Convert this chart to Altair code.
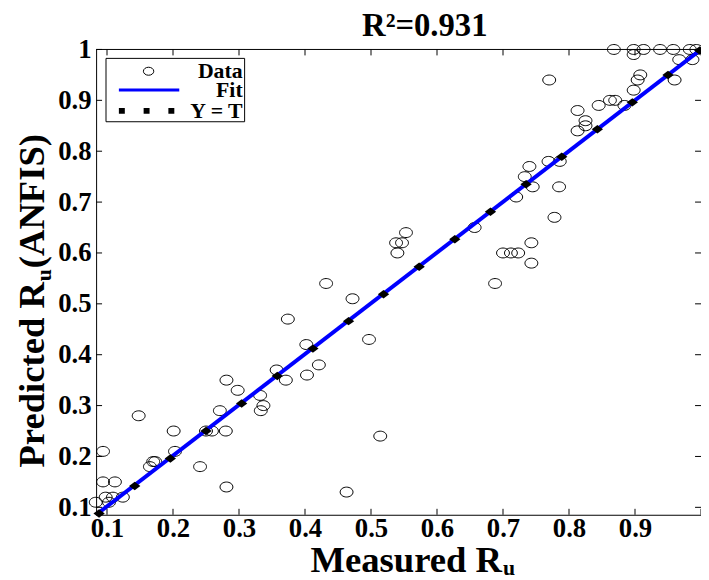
import altair as alt
import pandas as pd

# ---------------- data ----------------
measured = [0.083, 0.098, 0.109, 0.124, 0.103, 0.094, 0.112, 0.094, 0.148, 0.165,
            0.170, 0.173, 0.201, 0.203, 0.241, 0.250, 0.259, 0.280, 0.281, 0.271,
            0.281, 0.298, 0.332, 0.337, 0.333, 0.357, 0.371, 0.374, 0.402, 0.403,
            0.421, 0.432, 0.472, 0.497, 0.514, 0.463, 0.538, 0.547, 0.553, 0.540,
            0.657, 0.688, 0.700, 0.712, 0.723, 0.720, 0.733, 0.740, 0.743, 0.743,
            0.745, 0.769, 0.786, 0.785, 0.778, 0.770, 0.813, 0.825, 0.825, 0.813,
            0.845, 0.862, 0.870, 0.884, 0.868, 0.898, 0.898, 0.913, 0.938, 0.958,
            0.983, 0.993, 0.967, 0.987, 0.908, 0.904, 0.960, 0.898]
predicted = [0.11, 0.12, 0.12, 0.12, 0.11, 0.15, 0.15, 0.21, 0.28, 0.18,
             0.19, 0.19, 0.25, 0.21, 0.18, 0.25, 0.25, 0.25, 0.14, 0.29,
             0.35, 0.33, 0.32, 0.30, 0.29, 0.37, 0.35, 0.47, 0.42, 0.36,
             0.38, 0.54, 0.51, 0.43, 0.24, 0.13, 0.62, 0.62, 0.64, 0.60,
             0.65, 0.54, 0.60, 0.60, 0.60, 0.71, 0.75, 0.77, 0.62, 0.58,
             0.73, 0.78, 0.78, 0.73, 0.67, 0.94, 0.88, 0.86, 0.85, 0.84,
             0.89, 0.90, 0.90, 0.89, 1.00, 1.00, 0.99, 1.00, 1.00, 1.00,
             1.00, 1.00, 0.98, 0.98, 0.95, 0.94, 0.94, 0.92]

fit_x = [0.0835, 1.0]
fit_y = [0.0854, 1.0]

yt_x = [0.088, 0.142, 0.196, 0.250, 0.304, 0.358, 0.412, 0.466, 0.519,
        0.573, 0.627, 0.681, 0.735, 0.789, 0.843, 0.896, 0.950, 0.998]
yt_y = [0.088, 0.142, 0.196, 0.250, 0.304, 0.358, 0.412, 0.466, 0.519,
        0.573, 0.627, 0.681, 0.735, 0.789, 0.843, 0.896, 0.950, 0.998]

x_tick_values = [0.1, 0.2, 0.3, 0.4, 0.5, 0.6, 0.7, 0.8, 0.9, 1.0]
y_tick_values = [0.1, 0.2, 0.3, 0.4, 0.5, 0.6, 0.7, 0.8, 0.9, 1.0]
x_label_values = [0.1, 0.2, 0.3, 0.4, 0.5, 0.6, 0.7, 0.8, 0.9]

title_text = "R²=0.931"
x_title_main, x_title_sub = "Measured R", "u"
y_title_main, y_title_sub, y_title_tail = "Predicted R", "u", "(ANFIS)"
legend_labels = ["Data", "Fit", "Y = T"]

# ---------------- styling ----------------
W, H = 611, 470
FONT = "Liberation Serif"
ELLIPSE = "M -1 0 A 1 0.77 0 1 0 1 0 A 1 0.77 0 1 0 -1 0 Z"
DIAMOND = "M -1 0 L 0 -0.75 L 1 0 L 0 0.75 Z"

xs = alt.Scale(domain=[0.0835, 1.0], nice=False, zero=False)
ys = alt.Scale(domain=[0.0854, 1.0], nice=False, zero=False)

axis_common = dict(title=None, ticks=False, tickSize=0, grid=False,
                   domainColor="black", domainWidth=1,
                   labelFont=FONT, labelFontSize=27, labelFontWeight="bold",
                   labelColor="black", labelFlush=False, labelOverlap=False)
X_AXIS = alt.Axis(values=x_label_values, format=".1f", labelPadding=1, **axis_common)
Y_AXIS = alt.Axis(values=y_tick_values, format=".3~g", labelPadding=5, **axis_common)

one = pd.DataFrame({"k": [0]})

pts = alt.Chart(pd.DataFrame({"x": measured, "y": predicted})).mark_point(
    shape=ELLIPSE, filled=False, size=169, color="black", strokeWidth=1, opacity=1
).encode(
    x=alt.X("x:Q", scale=xs, axis=X_AXIS),
    y=alt.Y("y:Q", scale=ys, axis=Y_AXIS),
)

fit = alt.Chart(pd.DataFrame({"x": fit_x, "y": fit_y})).mark_line(
    color="#0000ff", strokeWidth=4, clip=True
).encode(x=alt.X("x:Q", scale=xs, axis=X_AXIS), y=alt.Y("y:Q", scale=ys, axis=Y_AXIS))

ytm = alt.Chart(pd.DataFrame({"x": yt_x, "y": yt_y})).mark_point(
    shape=DIAMOND, filled=True, size=130, color="black", opacity=1
).encode(x=alt.X("x:Q", scale=xs, axis=X_AXIS), y=alt.Y("y:Q", scale=ys, axis=Y_AXIS))

# inward ticks on all four sides
xt = pd.DataFrame({"x": x_tick_values})
yt = pd.DataFrame({"y": y_tick_values})
tick_style = dict(color="black", strokeWidth=1)
t_bottom = alt.Chart(xt).mark_rule(**tick_style).encode(
    x=alt.X("x:Q", scale=xs, axis=X_AXIS), y=alt.value(H), y2=alt.value(H - 6))
t_top = alt.Chart(xt).mark_rule(**tick_style).encode(
    x=alt.X("x:Q", scale=xs, axis=X_AXIS), y=alt.value(0), y2=alt.value(6))
t_left = alt.Chart(yt).mark_rule(**tick_style).encode(
    y=alt.Y("y:Q", scale=ys, axis=Y_AXIS), x=alt.value(0), x2=alt.value(6))
t_right = alt.Chart(yt).mark_rule(**tick_style).encode(
    y=alt.Y("y:Q", scale=ys, axis=Y_AXIS), x=alt.value(W), x2=alt.value(W - 6))
top_line = alt.Chart(one).mark_rule(color="black", strokeWidth=1).encode(
    x=alt.value(0), x2=alt.value(W), y=alt.value(0))

def txt(s, x, y, size, align="center", baseline="alphabetic", angle=0):
    kw = dict(text=s, font=FONT, fontSize=size, fontWeight="bold", color="black",
              align=align, baseline=baseline)
    if angle:
        kw["angle"] = angle
    return alt.Chart(one).mark_text(**kw).encode(x=alt.value(x), y=alt.value(y))

title = txt(title_text, 332, -14, 33)
xt_main = txt(x_title_main, 410, 528, 37, align="right")
xt_sub = txt(x_title_sub, 411, 531, 22, align="left")
yt_main = txt(y_title_main, -53, 235, 37, align="right", angle=270)
yt_sub = txt(y_title_sub, -46, 234, 22, align="left", angle=270)
yt_tail = txt(y_title_tail, -53, 221, 37, align="left", angle=270)

# legend
leg_box = alt.Chart(one).mark_rect(fill="white", stroke="black", strokeWidth=1).encode(
    x=alt.value(10), x2=alt.value(150), y=alt.value(9), y2=alt.value(73))
leg_t1 = txt(legend_labels[0], 148, 22, 22, align="right", baseline="middle")
leg_t2 = txt(legend_labels[1], 148, 41, 22, align="right", baseline="middle")
leg_t3 = txt(legend_labels[2], 148, 62, 22, align="right", baseline="middle")
leg_sym = alt.Chart(one).mark_point(shape=ELLIPSE, filled=False, size=110,
                                    color="black", strokeWidth=1, opacity=1).encode(
    x=alt.value(53), y=alt.value(22))
leg_fit = alt.Chart(one).mark_rule(color="#0000ff", strokeWidth=3).encode(
    x=alt.value(23), x2=alt.value(84), y=alt.value(41))
leg_yt = alt.Chart(one).mark_rule(color="black", strokeWidth=6, strokeDash=[6, 19],
                                  strokeCap="butt").encode(
    x=alt.value(23), x2=alt.value(79), y=alt.value(62))

chart = alt.layer(
    pts, fit, ytm, t_bottom, t_top, t_left, t_right, top_line,
    title, xt_main, xt_sub, yt_main, yt_sub, yt_tail,
    leg_box, leg_t1, leg_t2, leg_t3, leg_sym, leg_fit, leg_yt,
).properties(
    width=W, height=H,
    autosize=alt.AutoSizeParams(type="none"),
    padding={"left": 89, "top": 39, "right": 0, "bottom": 62},
    background="white",
).configure_view(stroke=None)

chart.save("out.html", embed_options={"renderer": "svg", "actions": False})
